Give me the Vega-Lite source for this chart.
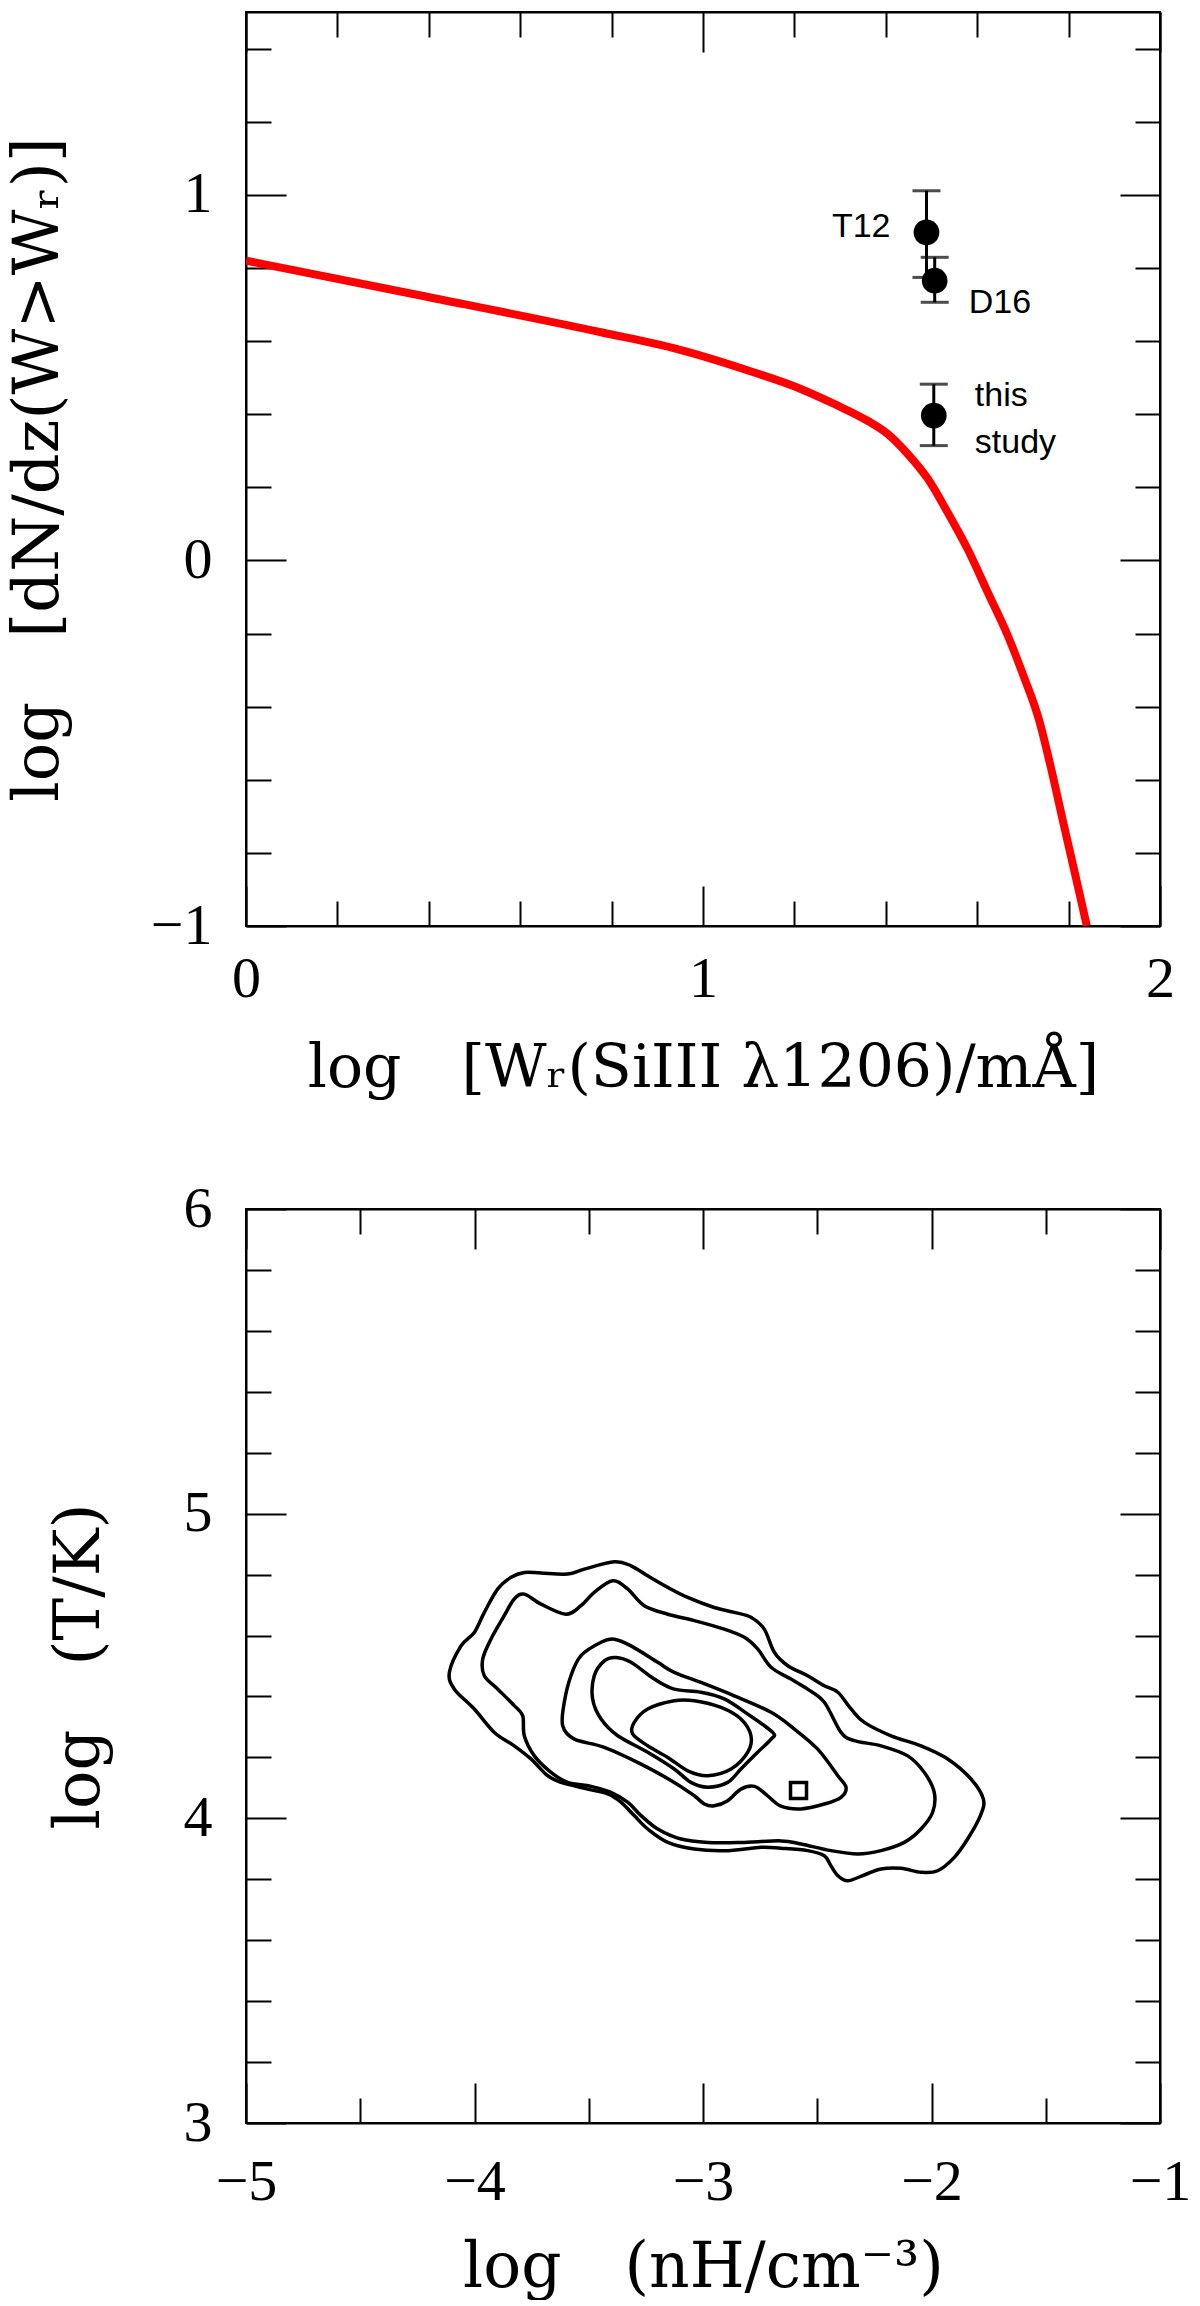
{
  "$schema": "https://vega.github.io/schema/vega-lite/v6.json",
  "background": "white",
  "padding": {"left": 5, "top": 10, "right": 0, "bottom": 0},
  "bounds": "flush",
  "spacing": 283,
  "config": {
    "view": {"stroke": "black", "strokeWidth": 2},
    "axis": {
      "grid": false, "domainColor": "black", "domainWidth": 2, "tickColor": "black", "tickWidth": 2,
      "labelFont": "Liberation Serif", "labelFontSize": 58, "labelColor": "black",
      "titleFont": "DejaVu Serif", "titleFontSize": 60, "titleFontWeight": "normal", "titleColor": "black",
      "labelFlush": false, "labelOverlap": false
    }
  },
  "datasets": {
    "curve": [
      {"x": 0.0, "y": 0.820}, {"x": 0.385, "y": 0.724}, {"x": 0.777, "y": 0.624}, {"x": 0.944, "y": 0.578},
      {"x": 1.112, "y": 0.514}, {"x": 1.214, "y": 0.469}, {"x": 1.287, "y": 0.428}, {"x": 1.360, "y": 0.382},
      {"x": 1.404, "y": 0.346}, {"x": 1.448, "y": 0.291}, {"x": 1.492, "y": 0.223}, {"x": 1.535, "y": 0.132},
      {"x": 1.579, "y": 0.031}, {"x": 1.623, "y": -0.087}, {"x": 1.667, "y": -0.206}, {"x": 1.702, "y": -0.318},
      {"x": 1.735, "y": -0.435}, {"x": 1.760, "y": -0.560}, {"x": 1.788, "y": -0.715}, {"x": 1.814, "y": -0.857},
      {"x": 1.840, "y": -1.0}
    ],
    "points": [
      {"label": "T12", "x": 1.489, "y": 0.897, "lo": 0.774, "hi": 1.011},
      {"label": "D16", "x": 1.507, "y": 0.765, "lo": 0.706, "hi": 0.829},
      {"label": "this study", "x": 1.505, "y": 0.396, "lo": 0.314, "hi": 0.482}
    ],
    "best": [{"x": -2.582, "y": 4.091}],
    "contours": [
      {"c":1,"i":1,"x":-4.110,"y":4.479},{"c":1,"i":2,"x":-4.059,"y":4.566},{"c":1,"i":3,"x":-4.001,"y":4.610},{"c":1,"i":4,"x":-3.957,"y":4.676},
      {"c":1,"i":5,"x":-3.898,"y":4.753},{"c":1,"i":6,"x":-3.840,"y":4.791},{"c":1,"i":7,"x":-3.782,"y":4.807},{"c":1,"i":8,"x":-3.709,"y":4.805},
      {"c":1,"i":9,"x":-3.592,"y":4.802},{"c":1,"i":10,"x":-3.519,"y":4.818},{"c":1,"i":11,"x":-3.388,"y":4.842},{"c":1,"i":12,"x":-3.315,"y":4.829},
      {"c":1,"i":13,"x":-3.242,"y":4.796},{"c":1,"i":14,"x":-3.154,"y":4.758},{"c":1,"i":15,"x":-3.067,"y":4.725},{"c":1,"i":16,"x":-2.951,"y":4.692},
      {"c":1,"i":17,"x":-2.863,"y":4.676},{"c":1,"i":18,"x":-2.790,"y":4.660},{"c":1,"i":19,"x":-2.732,"y":4.621},{"c":1,"i":20,"x":-2.688,"y":4.545},
      {"c":1,"i":21,"x":-2.629,"y":4.501},{"c":1,"i":22,"x":-2.542,"y":4.468},{"c":1,"i":23,"x":-2.469,"y":4.435},{"c":1,"i":24,"x":-2.410,"y":4.414},
      {"c":1,"i":25,"x":-2.352,"y":4.359},{"c":1,"i":26,"x":-2.294,"y":4.315},{"c":1,"i":27,"x":-2.177,"y":4.271},{"c":1,"i":28,"x":-2.046,"y":4.238},
      {"c":1,"i":29,"x":-1.929,"y":4.195},{"c":1,"i":30,"x":-1.827,"y":4.129},{"c":1,"i":31,"x":-1.773,"y":4.063},{"c":1,"i":32,"x":-1.786,"y":4.009},
      {"c":1,"i":33,"x":-1.842,"y":3.932},{"c":1,"i":34,"x":-1.900,"y":3.872},{"c":1,"i":35,"x":-1.973,"y":3.828},{"c":1,"i":36,"x":-2.046,"y":3.823},
      {"c":1,"i":37,"x":-2.133,"y":3.836},{"c":1,"i":38,"x":-2.221,"y":3.834},{"c":1,"i":39,"x":-2.294,"y":3.814},{"c":1,"i":40,"x":-2.367,"y":3.795},
      {"c":1,"i":41,"x":-2.410,"y":3.812},{"c":1,"i":42,"x":-2.440,"y":3.844},{"c":1,"i":43,"x":-2.469,"y":3.877},{"c":1,"i":44,"x":-2.542,"y":3.894},
      {"c":1,"i":45,"x":-2.659,"y":3.902},{"c":1,"i":46,"x":-2.746,"y":3.905},{"c":1,"i":47,"x":-2.892,"y":3.894},{"c":1,"i":48,"x":-3.038,"y":3.899},
      {"c":1,"i":49,"x":-3.154,"y":3.921},{"c":1,"i":50,"x":-3.242,"y":3.965},{"c":1,"i":51,"x":-3.301,"y":4.009},{"c":1,"i":52,"x":-3.359,"y":4.053},
      {"c":1,"i":53,"x":-3.417,"y":4.080},{"c":1,"i":54,"x":-3.505,"y":4.096},{"c":1,"i":55,"x":-3.621,"y":4.118},{"c":1,"i":56,"x":-3.680,"y":4.140},
      {"c":1,"i":57,"x":-3.753,"y":4.195},{"c":1,"i":58,"x":-3.826,"y":4.238},{"c":1,"i":59,"x":-3.913,"y":4.282},{"c":1,"i":60,"x":-4.001,"y":4.359},
      {"c":1,"i":61,"x":-4.088,"y":4.424},

      {"c":2,"i":1,"x":-3.782,"y":4.736},{"c":2,"i":2,"x":-3.709,"y":4.703},{"c":2,"i":3,"x":-3.600,"y":4.670},{"c":2,"i":4,"x":-3.534,"y":4.698},
      {"c":2,"i":5,"x":-3.476,"y":4.742},{"c":2,"i":6,"x":-3.395,"y":4.780},{"c":2,"i":7,"x":-3.330,"y":4.753},{"c":2,"i":8,"x":-3.257,"y":4.698},
      {"c":2,"i":9,"x":-3.154,"y":4.670},{"c":2,"i":10,"x":-3.038,"y":4.649},{"c":2,"i":11,"x":-2.907,"y":4.621},{"c":2,"i":12,"x":-2.819,"y":4.594},
      {"c":2,"i":13,"x":-2.761,"y":4.556},{"c":2,"i":14,"x":-2.702,"y":4.496},{"c":2,"i":15,"x":-2.615,"y":4.457},{"c":2,"i":16,"x":-2.542,"y":4.424},
      {"c":2,"i":17,"x":-2.469,"y":4.381},{"c":2,"i":18,"x":-2.396,"y":4.282},{"c":2,"i":19,"x":-2.338,"y":4.255},{"c":2,"i":20,"x":-2.221,"y":4.238},
      {"c":2,"i":21,"x":-2.104,"y":4.205},{"c":2,"i":22,"x":-2.032,"y":4.151},{"c":2,"i":23,"x":-1.988,"y":4.085},{"c":2,"i":24,"x":-1.995,"y":4.020},
      {"c":2,"i":25,"x":-2.046,"y":3.965},{"c":2,"i":26,"x":-2.119,"y":3.921},{"c":2,"i":27,"x":-2.221,"y":3.894},{"c":2,"i":28,"x":-2.323,"y":3.883},
      {"c":2,"i":29,"x":-2.440,"y":3.894},{"c":2,"i":30,"x":-2.571,"y":3.916},{"c":2,"i":31,"x":-2.659,"y":3.926},{"c":2,"i":32,"x":-2.834,"y":3.921},
      {"c":2,"i":33,"x":-2.979,"y":3.921},{"c":2,"i":34,"x":-3.096,"y":3.932},{"c":2,"i":35,"x":-3.198,"y":3.965},{"c":2,"i":36,"x":-3.271,"y":4.009},
      {"c":2,"i":37,"x":-3.330,"y":4.053},{"c":2,"i":38,"x":-3.403,"y":4.085},{"c":2,"i":39,"x":-3.490,"y":4.105},{"c":2,"i":40,"x":-3.592,"y":4.118},
      {"c":2,"i":41,"x":-3.665,"y":4.151},{"c":2,"i":42,"x":-3.738,"y":4.205},{"c":2,"i":43,"x":-3.782,"y":4.271},{"c":2,"i":44,"x":-3.789,"y":4.337},
      {"c":2,"i":45,"x":-3.826,"y":4.370},{"c":2,"i":46,"x":-3.898,"y":4.424},{"c":2,"i":47,"x":-3.957,"y":4.468},{"c":2,"i":48,"x":-3.964,"y":4.523},
      {"c":2,"i":49,"x":-3.928,"y":4.588},{"c":2,"i":50,"x":-3.870,"y":4.665},{"c":2,"i":51,"x":-3.826,"y":4.720},

      {"c":3,"i":1,"x":-3.388,"y":4.588},{"c":3,"i":2,"x":-3.315,"y":4.566},{"c":3,"i":3,"x":-3.198,"y":4.512},{"c":3,"i":4,"x":-3.126,"y":4.479},
      {"c":3,"i":5,"x":-3.009,"y":4.446},{"c":3,"i":6,"x":-2.863,"y":4.402},{"c":3,"i":7,"x":-2.702,"y":4.348},{"c":3,"i":8,"x":-2.600,"y":4.293},
      {"c":3,"i":9,"x":-2.498,"y":4.227},{"c":3,"i":10,"x":-2.410,"y":4.140},{"c":3,"i":11,"x":-2.374,"y":4.102},{"c":3,"i":12,"x":-2.396,"y":4.069},
      {"c":3,"i":13,"x":-2.469,"y":4.047},{"c":3,"i":14,"x":-2.571,"y":4.031},{"c":3,"i":15,"x":-2.659,"y":4.040},{"c":3,"i":16,"x":-2.717,"y":4.074},
      {"c":3,"i":17,"x":-2.775,"y":4.105},{"c":3,"i":18,"x":-2.834,"y":4.096},{"c":3,"i":19,"x":-2.892,"y":4.058},{"c":3,"i":20,"x":-2.951,"y":4.041},
      {"c":3,"i":21,"x":-2.994,"y":4.047},{"c":3,"i":22,"x":-3.038,"y":4.074},{"c":3,"i":23,"x":-3.126,"y":4.118},{"c":3,"i":24,"x":-3.271,"y":4.178},
      {"c":3,"i":25,"x":-3.432,"y":4.233},{"c":3,"i":26,"x":-3.563,"y":4.260},{"c":3,"i":27,"x":-3.614,"y":4.304},{"c":3,"i":28,"x":-3.607,"y":4.381},
      {"c":3,"i":29,"x":-3.578,"y":4.468},{"c":3,"i":30,"x":-3.534,"y":4.534},{"c":3,"i":31,"x":-3.446,"y":4.578},

      {"c":4,"i":1,"x":-3.381,"y":4.528},{"c":4,"i":2,"x":-3.315,"y":4.512},{"c":4,"i":3,"x":-3.213,"y":4.457},{"c":4,"i":4,"x":-3.126,"y":4.424},
      {"c":4,"i":5,"x":-3.009,"y":4.414},{"c":4,"i":6,"x":-2.907,"y":4.392},{"c":4,"i":7,"x":-2.804,"y":4.342},{"c":4,"i":8,"x":-2.695,"y":4.282},
      {"c":4,"i":9,"x":-2.702,"y":4.260},{"c":4,"i":10,"x":-2.761,"y":4.217},{"c":4,"i":11,"x":-2.834,"y":4.162},{"c":4,"i":12,"x":-2.892,"y":4.118},
      {"c":4,"i":13,"x":-2.979,"y":4.102},{"c":4,"i":14,"x":-3.053,"y":4.118},{"c":4,"i":15,"x":-3.126,"y":4.162},{"c":4,"i":16,"x":-3.242,"y":4.217},
      {"c":4,"i":17,"x":-3.373,"y":4.271},{"c":4,"i":18,"x":-3.446,"y":4.326},{"c":4,"i":19,"x":-3.483,"y":4.392},{"c":4,"i":20,"x":-3.476,"y":4.468},
      {"c":4,"i":21,"x":-3.432,"y":4.517},

      {"c":5,"i":1,"x":-3.301,"y":4.315},{"c":5,"i":2,"x":-3.242,"y":4.359},{"c":5,"i":3,"x":-3.126,"y":4.386},{"c":5,"i":4,"x":-3.038,"y":4.386},
      {"c":5,"i":5,"x":-2.921,"y":4.364},{"c":5,"i":6,"x":-2.834,"y":4.326},{"c":5,"i":7,"x":-2.790,"y":4.271},{"c":5,"i":8,"x":-2.804,"y":4.217},
      {"c":5,"i":9,"x":-2.877,"y":4.162},{"c":5,"i":10,"x":-2.979,"y":4.140},{"c":5,"i":11,"x":-3.067,"y":4.156},{"c":5,"i":12,"x":-3.154,"y":4.200},
      {"c":5,"i":13,"x":-3.242,"y":4.238},{"c":5,"i":14,"x":-3.308,"y":4.277}
    ]
  },
  "vconcat": [
    {
      "width": 914, "height": 914,
      "resolve": {"axis": {"x": "independent", "y": "independent"}},
      "layer": [
        {
          "data": {"name": "curve"},
          "mark": {"type": "line", "color": "#ff0000", "strokeWidth": 8, "interpolate": "monotone", "clip": true},
          "encoding": {
            "x": {"field": "x", "type": "quantitative", "scale": {"domain": [0, 2], "nice": false, "zero": false},
              "axis": {"orient": "bottom", "values": [0,0.2,0.4,0.6,0.8,1,1.2,1.4,1.6,1.8,2],
                "title": "log\u2003[Wᵣ(SiIII λ1206)/mÅ]",
                "labelExpr": "abs(datum.value - round(datum.value)) < 0.001 ? format(datum.value, 'd') : ''",
                "tickSize": {"condition": {"test": "abs(datum.value - round(datum.value)) < 0.001", "value": -40}, "value": -25},
                "labelPadding": 64, "titlePadding": 16}},
            "y": {"field": "y", "type": "quantitative", "scale": {"domain": [-1, 1.5], "nice": false, "zero": false},
              "axis": {"orient": "left", "values": [-1,-0.8,-0.6,-0.4,-0.2,0,0.2,0.4,0.6,0.8,1,1.2,1.4],
                "title": "log\u2003[dN/dz(W>Wᵣ)]", "titleFontSize": 64,
                "labelExpr": "abs(datum.value - round(datum.value)) < 0.001 ? format(datum.value, 'd') : ''",
                "tickSize": {"condition": {"test": "abs(datum.value - round(datum.value)) < 0.001", "value": -40}, "value": -25},
                "labelPadding": 74, "titlePadding": 80}}
          }
        },
        {
          "data": {"name": "points"},
          "mark": {"type": "errorbar", "color": "black", "thickness": 3, "ticks": {"size": 28}},
          "encoding": {
            "x": {"field": "x", "type": "quantitative",
              "axis": {"orient": "top", "values": [0,0.2,0.4,0.6,0.8,1,1.2,1.4,1.6,1.8,2], "labels": false, "title": null,
                "tickSize": {"condition": {"test": "abs(datum.value - round(datum.value)) < 0.001", "value": -40}, "value": -25}}},
            "y": {"field": "lo", "type": "quantitative",
              "axis": {"orient": "right", "values": [-1,-0.8,-0.6,-0.4,-0.2,0,0.2,0.4,0.6,0.8,1,1.2,1.4], "labels": false, "title": null,
                "tickSize": {"condition": {"test": "abs(datum.value - round(datum.value)) < 0.001", "value": -40}, "value": -25}}},
            "y2": {"field": "hi"}
          }
        },
        {
          "data": {"name": "points"},
          "mark": {"type": "circle", "color": "black", "opacity": 1, "size": 660},
          "encoding": {
            "x": {"field": "x", "type": "quantitative", "axis": null},
            "y": {"field": "y", "type": "quantitative", "axis": null}
          }
        },
        {
          "data": {"name": "points"},
          "transform": [{"filter": "datum.label == 'T12'"}],
          "mark": {"type": "text", "align": "right", "baseline": "alphabetic", "dx": -36, "dy": 5, "font": "Liberation Sans", "fontSize": 34, "color": "black"},
          "encoding": {
            "x": {"field": "x", "type": "quantitative", "axis": null},
            "y": {"field": "y", "type": "quantitative", "axis": null},
            "text": {"field": "label"}
          }
        },
        {
          "data": {"name": "points"},
          "transform": [{"filter": "datum.label == 'D16'"}],
          "mark": {"type": "text", "align": "left", "baseline": "alphabetic", "dx": 34, "dy": 32, "font": "Liberation Sans", "fontSize": 34, "color": "black"},
          "encoding": {
            "x": {"field": "x", "type": "quantitative", "axis": null},
            "y": {"field": "y", "type": "quantitative", "axis": null},
            "text": {"field": "label"}
          }
        },
        {
          "data": {"name": "points"},
          "transform": [{"filter": "datum.label == 'this study'"}, {"calculate": "split(datum.label, ' ')", "as": "lines"}],
          "mark": {"type": "text", "align": "left", "baseline": "alphabetic", "dx": 41, "dy": -10, "lineHeight": 47, "font": "Liberation Sans", "fontSize": 34, "color": "black"},
          "encoding": {
            "x": {"field": "x", "type": "quantitative", "axis": null},
            "y": {"field": "y", "type": "quantitative", "axis": null},
            "text": {"field": "lines"}
          }
        }
      ]
    },
    {
      "width": 914, "height": 914,
      "resolve": {"axis": {"x": "independent", "y": "independent"}},
      "layer": [
        {
          "data": {"name": "contours"},
          "mark": {"type": "line", "color": "black", "strokeWidth": 3.5, "interpolate": "cardinal-closed"},
          "encoding": {
            "x": {"field": "x", "type": "quantitative", "scale": {"domain": [-5, -1], "nice": false, "zero": false},
              "axis": {"orient": "bottom", "values": [-5,-4.5,-4,-3.5,-3,-2.5,-2,-1.5,-1],
                "title": "log\u2003(nH/cm⁻³)", "titleFontSize": 63,
                "labelExpr": "abs(datum.value - round(datum.value)) < 0.001 ? format(datum.value, 'd') : ''",
                "tickSize": {"condition": {"test": "abs(datum.value - round(datum.value)) < 0.001", "value": -40}, "value": -25},
                "labelPadding": 70, "titlePadding": 10}},
            "y": {"field": "y", "type": "quantitative", "scale": {"domain": [3, 6], "nice": false, "zero": false},
              "axis": {"orient": "left", "values": [3,3.2,3.4,3.6,3.8,4,4.2,4.4,4.6,4.8,5,5.2,5.4,5.6,5.8,6],
                "title": "log\u2003(T/K)", "titleFontSize": 64,
                "labelExpr": "abs(datum.value - round(datum.value)) < 0.001 ? format(datum.value, 'd') : ''",
                "tickSize": {"condition": {"test": "abs(datum.value - round(datum.value)) < 0.001", "value": -40}, "value": -25},
                "labelPadding": 74, "titlePadding": 72}},
            "detail": {"field": "c", "type": "nominal"},
            "order": {"field": "i", "type": "quantitative"}
          }
        },
        {
          "data": {"name": "best"},
          "mark": {"type": "point", "shape": "square", "filled": false, "color": "black", "strokeWidth": 3.5, "size": 256, "opacity": 1},
          "encoding": {
            "x": {"field": "x", "type": "quantitative",
              "axis": {"orient": "top", "values": [-5,-4.5,-4,-3.5,-3,-2.5,-2,-1.5,-1], "labels": false, "title": null,
                "tickSize": {"condition": {"test": "abs(datum.value - round(datum.value)) < 0.001", "value": -40}, "value": -25}}},
            "y": {"field": "y", "type": "quantitative",
              "axis": {"orient": "right", "values": [3,3.2,3.4,3.6,3.8,4,4.2,4.4,4.6,4.8,5,5.2,5.4,5.6,5.8,6], "labels": false, "title": null,
                "tickSize": {"condition": {"test": "abs(datum.value - round(datum.value)) < 0.001", "value": -40}, "value": -25}}}
          }
        }
      ]
    }
  ]
}
